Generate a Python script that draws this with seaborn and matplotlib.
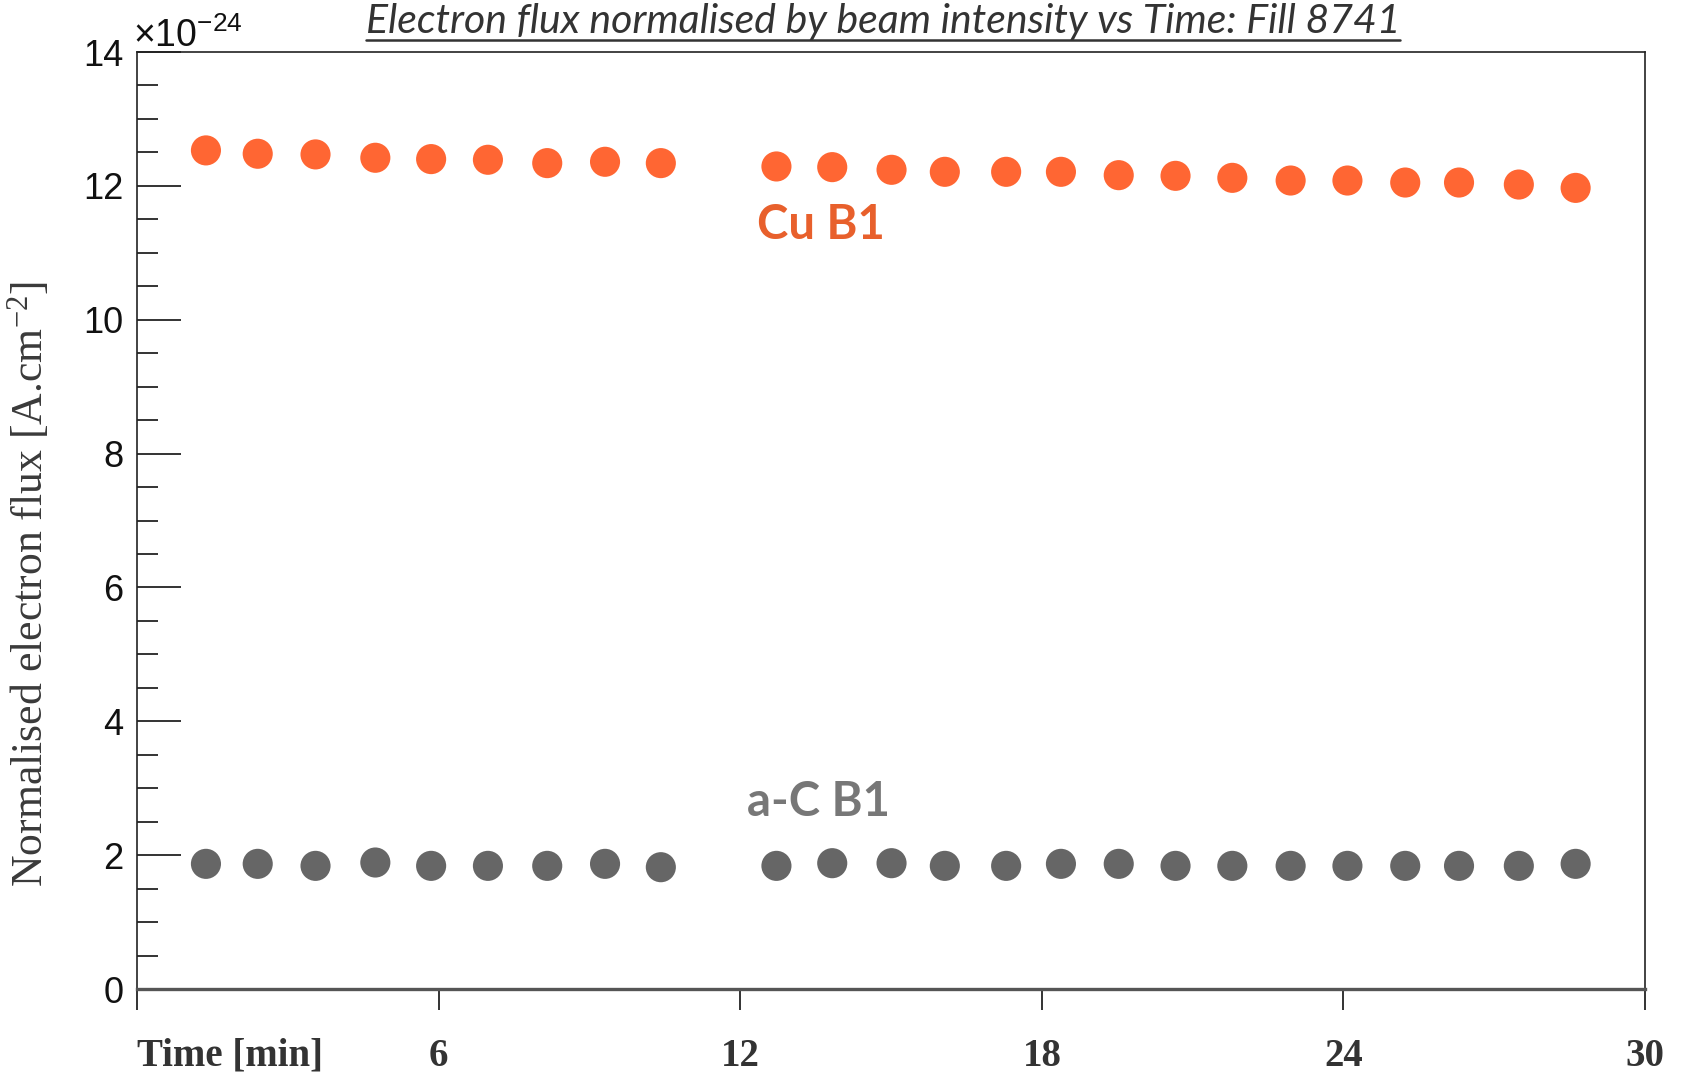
import matplotlib
matplotlib.use('Agg')
import matplotlib.pyplot as plt
import seaborn as sns
import pandas as pd
from matplotlib.ticker import MultipleLocator
from matplotlib.lines import Line2D

# ==========================================================
# Dados (fluxo em unidades de 1e-24 A.cm^-2)
# ==========================================================
tempo = [1.37, 2.40, 3.55, 4.74, 5.85, 6.98, 8.16, 9.31, 10.42,
         12.72, 13.83, 15.01, 16.07, 17.29, 18.38, 19.53, 20.66, 21.79,
         22.95, 24.08, 25.23, 26.30, 27.49, 28.62]

cu_b1 = [12.53, 12.48, 12.47, 12.42, 12.40, 12.39, 12.34, 12.36, 12.34,
         12.29, 12.28, 12.24, 12.21, 12.21, 12.21, 12.16, 12.15, 12.12,
         12.08, 12.08, 12.05, 12.05, 12.02, 11.97]

ac_b1 = [1.87, 1.87, 1.84, 1.89, 1.84, 1.84, 1.84, 1.87, 1.82,
         1.84, 1.88, 1.88, 1.84, 1.84, 1.87, 1.87, 1.84, 1.84,
         1.84, 1.84, 1.84, 1.84, 1.84, 1.87]

rotulos_x = ["Time [min]", "6", "12", "18", "24", "30"]
ticks_x = [0, 6, 12, 18, 24, 30]

cores = {"Cu B1": "#FF6633", "a-C B1": "#666666"}

df = pd.DataFrame({
    "tempo": tempo * 2,
    "fluxo": cu_b1 + ac_b1,
    "amostra": ["Cu B1"] * len(cu_b1) + ["a-C B1"] * len(ac_b1),
})

# ==========================================================
# Gráfico
# ==========================================================
sns.set_theme(style="white")
plt.rcParams['font.family'] = ['Liberation Sans', 'DejaVu Sans']

fig = plt.figure(figsize=(16.82, 10.77), dpi=100)
ax = fig.add_axes([0.0815, 0.0817, 0.8965, 0.870])

sns.scatterplot(data=df, x="tempo", y="fluxo", hue="amostra", palette=cores,
                s=470, linewidth=0, legend=False, ax=ax)

ax.set_xlim(0, 30)
ax.set_ylim(0, 14)

# eixo y
ax.yaxis.set_major_locator(MultipleLocator(2))
ax.yaxis.set_minor_locator(MultipleLocator(0.5))
ax.tick_params(axis='y', which='major', direction='in', length=32, width=1.2,
               color='#111111', labelsize=26, labelcolor='#111111', pad=10, left=True)
ax.tick_params(axis='y', which='minor', direction='in', length=15, width=1.2,
               color='#111111', left=True)

# eixo x
ax.set_xticks(ticks_x)
ax.set_xticklabels(rotulos_x, family=['Liberation Serif', 'DejaVu Serif'],
                   fontweight='bold', fontsize=28, color='#333333')
ax.get_xticklabels()[0].set_horizontalalignment('left')
ax.tick_params(axis='x', which='major', direction='out', length=15, width=1.2,
               color='#111111', pad=20, bottom=True)

for lado in ['left', 'top', 'right']:
    ax.spines[lado].set_color('#222222')
    ax.spines[lado].set_linewidth(1.2)
ax.spines['bottom'].set_color('#555555')
ax.spines['bottom'].set_linewidth(2.4)

ax.set_xlabel("")
ax.set_ylabel(r"Normalised electron flux [A.cm$\mathregular{^{-2}}$]",
              family=['Liberation Serif', 'DejaVu Serif'], fontsize=31.5,
              color='#3a3a3a')
ax.yaxis.set_label_coords(-0.057, 0.432)

# multiplicador
ax.text(-0.003, 1.005, r"×10$\mathregular{^{-24}}$", transform=ax.transAxes,
        fontsize=27, ha='left', va='baseline', color='#111111')

# rótulos das séries
ax.text(13.6, 11.41, "Cu B1", color='#E8602C', fontsize=34, fontweight='bold',
        family=['Lato', 'DejaVu Sans'], ha='center', va='center')
ax.text(13.55, 2.80, "a-C B1", color='#777777', fontsize=34, fontweight='bold',
        family=['Lato', 'DejaVu Sans'], ha='center', va='center')

# título sublinhado
titulo = fig.text(0.525, 0.980,
                  "Electron flux normalised by beam intensity vs Time: Fill 8741",
                  fontsize=29.5, style='italic', family=['Lato', 'DejaVu Sans'],
                  color='#333333', ha='center', va='center')
fig.canvas.draw()
bb = titulo.get_window_extent().transformed(fig.transFigure.inverted())
y_linha = 1 - 40 / 1077
fig.add_artist(Line2D([bb.x0, bb.x1], [y_linha, y_linha], color='#333333',
                      linewidth=1.8, transform=fig.transFigure))

fig.savefig("out.png", dpi=100)
